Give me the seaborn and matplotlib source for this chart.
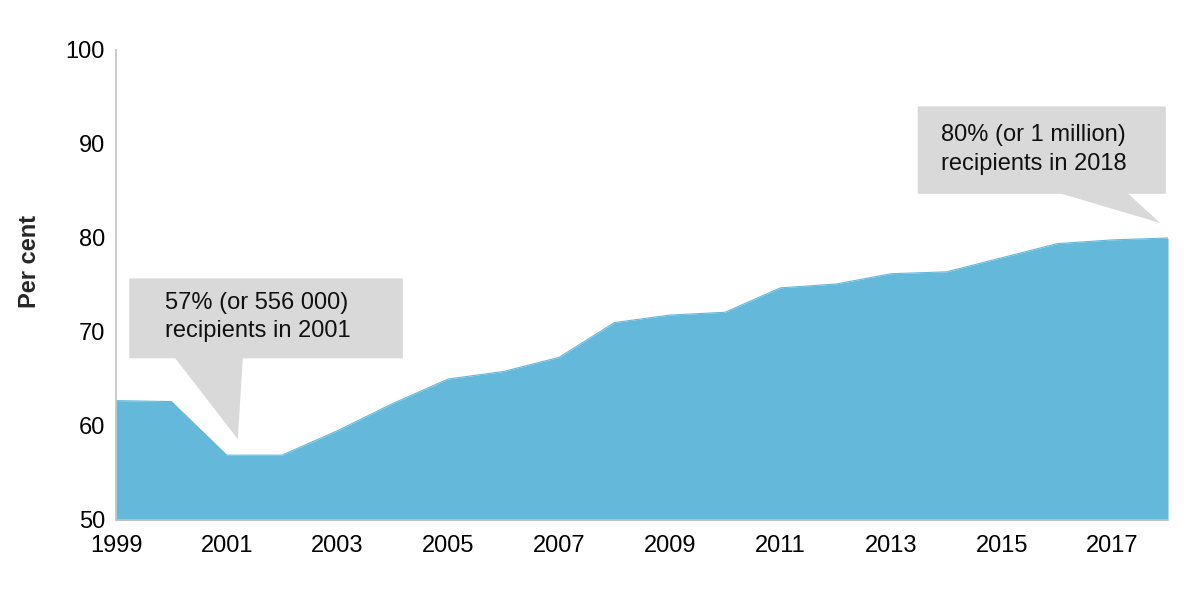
import numpy as np
import pandas as pd
import matplotlib
matplotlib.use('Agg')
import matplotlib.pyplot as plt
import seaborn as sns
from matplotlib.patches import Polygon

# =====================================================
# DATA
# =====================================================
years = list(range(1999, 2019))
share = [62.7, 62.6, 56.9, 56.9, 59.5, 62.4, 65.0, 65.8, 67.3, 71.0,
         71.8, 72.1, 74.7, 75.1, 76.2, 76.4, 77.9, 79.4, 79.8, 80.0]
x_ticks = list(range(1999, 2019, 2))
y_ticks = [50, 60, 70, 80, 90, 100]
note_2001 = '57% (or 556 000)\nrecipients in 2001'
note_2018 = '80% (or 1 million)\nrecipients in 2018'

df = pd.DataFrame({'year': years, 'share': share})

# =====================================================
# STYLE
# =====================================================
sns.set_theme(style='white')
plt.rcParams['font.family'] = ['Liberation Sans', 'DejaVu Sans']

fill_col = '#64b9da'
axis_col = '#c0c0c0'
box_col = '#d9d9d9'

fig = plt.figure(figsize=(12, 6.05), dpi=100)
ax = fig.add_axes([116 / 1200, 85 / 605, 1052 / 1200, 470 / 605])

ax.fill_between(df['year'], 50, df['share'], color=fill_col, linewidth=0)
sns.lineplot(ax=ax, data=df, x='year', y='share', color=fill_col, linewidth=0.8)

ax.set_xlim(1999, 2018)
ax.set_ylim(50, 100)
ax.set_xticks(x_ticks)
ax.set_yticks(y_ticks)
ax.tick_params(axis='both', labelsize=17, colors='#000000', length=6, width=1.2,
               color=axis_col)
ax.tick_params(axis='x', pad=5)
ax.tick_params(axis='y', length=5, pad=3)
ax.set_xlabel('')
ax.set_ylabel('Per cent', fontsize=17, fontweight='bold')
ax.yaxis.set_label_coords(-0.071, 0.551)

for side in ['top', 'right']:
    ax.spines[side].set_visible(False)
for side in ['left', 'bottom']:
    ax.spines[side].set_color(axis_col)
    ax.spines[side].set_linewidth(1.2)

# =====================================================
# CALLOUTS
# =====================================================
def callout(x0, x1, y0, y1, bx0, bx1, tip, text, tx, ty):
    pts = [(x0, y0), (bx0, y0), tip, (bx1, y0), (x1, y0), (x1, y1), (x0, y1)]
    ax.add_patch(Polygon(pts, closed=True, facecolor=box_col, edgecolor='none',
                         zorder=5, clip_on=False))
    ax.text(tx, ty, text, fontsize=17, va='center', ha='left', linespacing=1.4,
            zorder=6, color='#111111')

callout(1999.24, 2004.18, 67.2, 75.7, 2000.07, 2001.29, (2001.2, 58.6),
        note_2001, 1999.88, 71.6)
callout(2013.48, 2017.96, 84.7, 94.0, 2016.08, 2017.28, (2017.86, 81.6),
        note_2018, 2013.9, 89.4)

fig.savefig('out.png', dpi=100)
plt.close()
